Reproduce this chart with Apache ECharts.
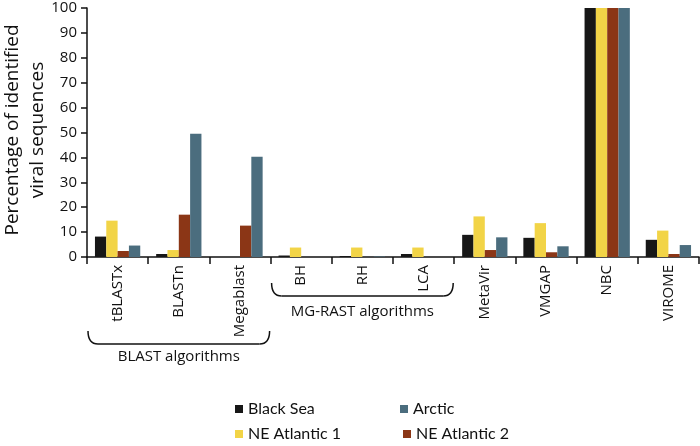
<!DOCTYPE html>
<html>
<head>
<meta charset="utf-8">
<script src="https://cdn.jsdelivr.net/npm/echarts@6/dist/echarts.min.js"></script>
<style>html,body{margin:0;padding:0;background:#fff;}#c{width:700px;height:446px;}</style>
</head>
<body>
<div id="c"></div>
<script>
var categories = ['tBLASTx','BLASTn','Megablast','BH','RH','LCA','MetaVir','VMGAP','NBC','VIROME'];
var blackSea   = [8.2, 1.2, 0,    0.6, 0.4, 1.2, 8.9, 7.7, 100, 6.9];
var neAtl1     = [14.6, 2.8, 0,   3.8, 3.8, 3.8, 16.3, 13.6, 100, 10.6];
var neAtl2     = [2.4, 17.0, 12.6, 0,  0,   0,   2.8, 1.9, 100, 1.2];
var arctic     = [4.6, 49.5, 40.3, 0,  0.2, 0,   7.9, 4.3, 100, 4.8];
var seriesNames = ['Black Sea','NE Atlantic 1','NE Atlantic 2','Arctic'];
var yTicks = [0,10,20,30,40,50,60,70,80,90,100];
var groupLabels = ['BLAST algorithms','MG-RAST algorithms'];
var yTitle = 'Percentage of identified\nviral sequences';

var colors = ['#171717','#f2d447','#8b3616','#4b6d7e'];
var chart = echarts.init(document.getElementById('c'), null, {renderer:'canvas'});
var font = '"Open Sans", "Noto Sans", sans-serif';
var legFont = 'Lato, "Open Sans", sans-serif';

function mkLegend(name, left, top){
  return {data:[name], left:left, top:top, icon:'rect', itemWidth:8, itemHeight:8, itemGap:5,
    textStyle:{fontFamily:legFont, fontSize:16, color:'#111', padding:[0,0,0,0]}, padding:0};
}

var gridL = 87, gridR = 1, gridT = 8, gridB = 189;
var catW = (700 - gridL - gridR) / categories.length;
var stroke = {stroke:'#111', lineWidth:1.5, fill:null};

function bracket(c0, c1, yTop, yBot){
  var x1 = gridL + c0*catW + 1, x2 = gridL + c1*catW - 1, r = 10;
  return [
    {type:'bezierCurve', shape:{x1:x1, y1:yTop, x2:x1+r, y2:yBot, cpx1:x1, cpy1:yBot}, style:stroke, silent:true},
    {type:'line', shape:{x1:x1+r, y1:yBot, x2:x2-r, y2:yBot}, style:stroke, silent:true},
    {type:'bezierCurve', shape:{x1:x2-r, y1:yBot, x2:x2, y2:yTop, cpx1:x2, cpy1:yBot}, style:stroke, silent:true}
  ];
}

var data = [blackSea, neAtl1, neAtl2, arctic];
var graphics = [].concat(
  bracket(0,3,331,344),
  bracket(3,6,283,296),
  [
    {type:'text', x:gridL + 1.5*catW, y:349, style:{text:groupLabels[0], font:'15px ' + font, fill:'#111', textAlign:'center', textVerticalAlign:'top'}},
    {type:'text', x:gridL + 4.5*catW, y:304, style:{text:groupLabels[1], font:'15px ' + font, fill:'#111', textAlign:'center', textVerticalAlign:'top'}},
    {type:'text', x:25, y:130, rotation:Math.PI/2,
      style:{text:yTitle, fontFamily:font, fontSize:19, lineHeight:25, fill:'#111',
        align:'center', verticalAlign:'middle', textAlign:'center', textVerticalAlign:'middle'}}
  ]
);

chart.setOption({
  animation:false,
  backgroundColor:'#fff',
  grid:{left:gridL, right:gridR, top:gridT, bottom:gridB, containLabel:false, outerBoundsMode:'none'},
  xAxis:{type:'category', data:categories,
    axisLine:{lineStyle:{color:'#111', width:1.5}},
    axisTick:{show:true, length:7, lineStyle:{color:'#111', width:1.5}},
    axisLabel:{rotate:90, interval:0, margin:8, fontFamily:font, fontSize:15, color:'#111'}},
  yAxis:{type:'value', min:yTicks[0], max:yTicks[yTicks.length-1], interval:10,
    axisLine:{show:true, lineStyle:{color:'#111', width:1.5}},
    axisTick:{show:true, length:6, lineStyle:{color:'#111', width:1.5}},
    splitLine:{show:false},
    axisLabel:{fontFamily:font, fontSize:15, color:'#111', margin:10}},
  legend:[mkLegend('Black Sea',235,401), mkLegend('Arctic',400,401), mkLegend('NE Atlantic 1',235,426), mkLegend('NE Atlantic 2',403,426)],
  series: seriesNames.map(function(n,i){
    return {name:n, type:'bar', data:data[i], barGap:'0%', barCategoryGap:'26%',
      itemStyle:{color:colors[i]}};
  }),
  graphic:graphics
});
</script>
</body>
</html>
